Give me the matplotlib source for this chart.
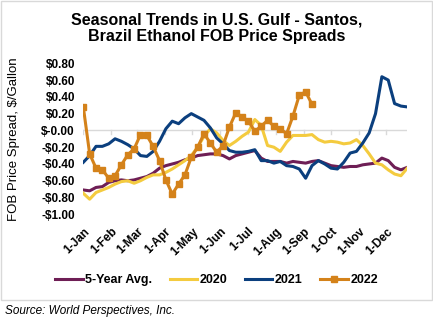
import matplotlib
matplotlib.use("Agg")
import matplotlib.pyplot as plt
from matplotlib.patches import Rectangle
import numpy as np

plt.rcParams["font.family"] = ["Liberation Sans", "DejaVu Sans"]

# weekly FOB spreads, $/gal (week index 0 = 1-Jan)
avg5 = [-0.71, -0.72, -0.68, -0.67, -0.62, -0.60, -0.59, -0.60, -0.59, -0.57,
        -0.55, -0.51, -0.45, -0.42, -0.40, -0.38, -0.35, -0.33, -0.30, -0.29,
        -0.28, -0.28, -0.30, -0.34, -0.30, -0.28, -0.26, -0.24, -0.33, -0.37,
        -0.37, -0.37, -0.39, -0.37, -0.38, -0.39, -0.37, -0.36, -0.39, -0.42,
        -0.43, -0.44, -0.43, -0.43, -0.41, -0.40, -0.39, -0.33, -0.36, -0.44,
        -0.47, -0.44]
y2020 = [-0.75, -0.82, -0.74, -0.71, -0.68, -0.64, -0.61, -0.60, -0.63, -0.60,
         -0.56, -0.53, -0.53, -0.50, -0.46, -0.41, -0.36, -0.30, -0.20, -0.07,
         0.02, -0.03, -0.12, -0.18, -0.13, -0.07, -0.02, 0.13, 0.06, -0.18,
         -0.20, -0.25, -0.14, -0.06, -0.06, -0.06, -0.05, -0.11, -0.14, -0.13,
         -0.14, -0.16, -0.15, -0.11, -0.18, -0.28, -0.39, -0.41, -0.47, -0.52,
         -0.54, -0.45]
y2021 = [-0.38, -0.30, -0.19, -0.19, -0.16, -0.10, -0.13, -0.17, -0.22, -0.30,
         -0.31, -0.25, -0.13, 0.02, 0.11, 0.08, 0.15, 0.20, 0.16, 0.12,
         0.03, -0.09, -0.16, -0.24, -0.26, -0.26, -0.25, -0.23, -0.36, -0.36,
         -0.39, -0.37, -0.42, -0.43, -0.46, -0.57, -0.42, -0.36, -0.40, -0.45,
         -0.46, -0.38, -0.27, -0.25, -0.15, -0.03, 0.20, 0.64, 0.60, 0.32,
         0.29, 0.28]
y2022 = [0.28, -0.28, -0.45, -0.47, -0.57, -0.54, -0.41, -0.29, -0.22, -0.05,
         -0.06, -0.19, -0.36, -0.59, -0.76, -0.64, -0.53, -0.32, -0.20, -0.04,
         -0.15, -0.26, -0.18, 0.04, 0.21, 0.16, 0.11, -0.01, 0.05, 0.12,
         0.05, 0.02, -0.04, 0.17, 0.42, 0.46, 0.31]

month_days = [0, 31, 59, 90, 120, 151, 181, 212, 243, 273, 304, 334]
month_labels = ["1-Jan", "1-Feb", "1-Mar", "1-Apr", "1-May", "1-Jun",
                "1-Jul", "1-Aug", "1-Sep", "1-Oct", "1-Nov", "1-Dec"]
yticks = np.round(np.arange(-1.0, 0.81, 0.2), 2)

C_AVG = "#6e1e55"
C_20 = "#f4cb3f"
C_21 = "#0b3f7e"
C_22 = "#d4821a"

fig = plt.figure(figsize=(4.33, 3.21), dpi=100)
fig.patches.append(Rectangle((0.002, 0.066), 0.995, 0.931, transform=fig.transFigure,
                             fill=False, edgecolor="#d9d9d9", lw=1.0))
ax = fig.add_axes([0.1924, 0.3324, 0.7482, 0.4704])

days = lambda s: np.arange(len(s)) * 7
lw = 2.2
ax.plot(days(avg5), avg5, color=C_AVG, lw=lw, label="5-Year Avg.")
ax.plot(days(y2020), y2020, color=C_20, lw=lw, label="2020")
ax.plot(days(y2021), y2021, color=C_21, lw=lw, label="2021")
ax.plot(days(y2022), y2022, color=C_22, lw=lw, marker="s", ms=5, label="2022")

ax.set_xlim(0, 357)
ax.set_ylim(-1.0, 0.8)
ax.axhline(0, color="#d9d9d9", lw=1.0, zorder=0)
for d in month_days:
    ax.plot([d, d], [0, -0.04], color="#d9d9d9", lw=1.0, zorder=0)

for s in ax.spines.values():
    s.set_visible(False)
ax.set_yticks(yticks)
ax.set_yticklabels([f"${v:.2f}" if v >= 0 else f"-${-v:.2f}" for v in yticks],
                   fontsize=8.5, fontweight="bold")
ax.tick_params(axis="y", length=0, pad=6)
ax.set_xticks(month_days)
ax.set_xticklabels(month_labels, rotation=45, ha="right", rotation_mode="anchor",
                   fontsize=8.5, fontweight="bold")
ax.tick_params(axis="x", length=0, pad=8)
ax.set_ylabel("FOB Price Spread, $/Gallon", fontsize=9.5)
ax.yaxis.set_label_coords(-0.195, 0.5)

fig.text(0.5, 0.913, "Seasonal Trends in U.S. Gulf - Santos,\nBrazil Ethanol FOB Price Spreads",
         ha="center", va="center", fontsize=11.5, fontweight="bold", linespacing=1.1)

fig.legend(loc="center", bbox_to_anchor=(0.5, 0.128), ncol=4, frameon=False,
           prop={"size": 9, "weight": "bold"}, handlelength=2.2, handletextpad=0.2,
           columnspacing=1.4)

fig.text(0.012, 0.032, "Source: World Perspectives, Inc.", ha="left", va="center",
         fontsize=8.5, style="italic")

fig.savefig("out.png", dpi=100)
